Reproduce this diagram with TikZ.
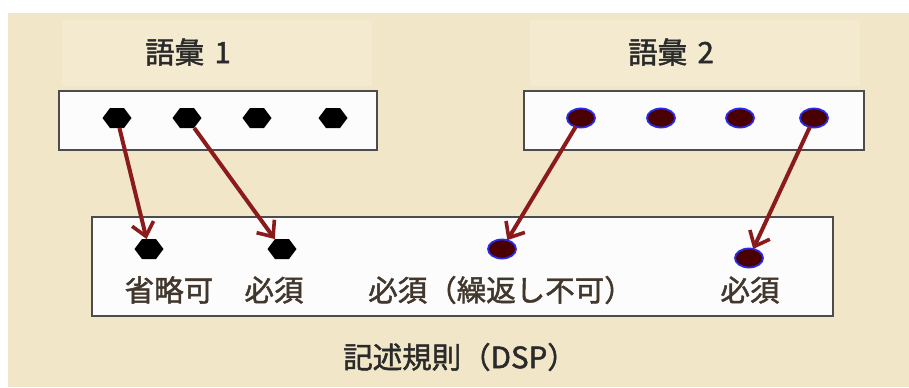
\documentclass[tikz,border=0pt]{standalone}
\usepackage{fontspec}
\setmainfont{Noto Sans CJK JP}[FakeBold=1.6]
\usetikzlibrary{arrows.meta,shapes.geometric}
\definecolor{bg}{HTML}{F1E6C8}
\definecolor{bglight}{HTML}{F3EAD0}
\definecolor{arrowred}{HTML}{8B1A1A}
\definecolor{maroon}{HTML}{4A0000}
\definecolor{rim}{HTML}{2A2AE8}
\definecolor{txt}{HTML}{2A2A2A}
\tikzset{
  panel/.style={draw=black!70, line width=1.3bp, fill=white!98!gray},
  hexdot/.style={minimum width=29bp, minimum height=20bp, inner sep=0pt, outer sep=0pt,
    path picture={\fill[black] (path picture bounding box.west)
      -- ([xshift=-7bp]path picture bounding box.north)
      -- ([xshift=7bp]path picture bounding box.north)
      -- (path picture bounding box.east)
      -- ([xshift=7bp]path picture bounding box.south)
      -- ([xshift=-7bp]path picture bounding box.south) -- cycle;}},
  elldot/.style={ellipse, fill=maroon, draw=rim, line width=1.8bp,
    minimum width=28bp, minimum height=19bp, inner sep=0pt, outer sep=0pt},
  link/.style={draw=arrowred, line width=4bp, -{Straight Barb[length=13bp,width=22bp,line width=3.6bp]}},
  title/.style={text=txt, font=\fontsize{29.5bp}{32bp}\selectfont, inner sep=0pt},
  lbl/.style={text=txt!85!brown, font=\fontsize{29.5bp}{32bp}\selectfont, inner sep=0pt},
}
\begin{document}
\begin{tikzpicture}[x=1bp,y=-1bp]
\useasboundingbox (0,0) rectangle (909,387);
\fill[white] (0,0) rectangle (909,387);
\fill[bg] (8,13) rectangle (909,387);
\fill[bglight] (62,20) rectangle (372,86);
\fill[bglight] (530,20) rectangle (860,86);
% titles
\node[title] (t1) at (188,52) {語彙\hspace{0.35em}1};
\node[title] (t2) at (671,52) {語彙\hspace{0.35em}2};
% panels
\node[panel, minimum width=318bp, minimum height=59bp, inner sep=0pt] (p1) at (218,120.5) {};
\node[panel, minimum width=340bp, minimum height=59bp, inner sep=0pt] (p2) at (694,120.5) {};
\node[panel, minimum width=741bp, minimum height=99bp, inner sep=0pt] (p3) at (462.5,266.5) {};
% vocabulary 1
\node[hexdot] (a1) at (117,118) {};
\node[hexdot] (a2) at (187,118) {};
\node[hexdot] (a3) at (257,118) {};
\node[hexdot] (a4) at (333,118) {};
% vocabulary 2
\node[elldot] (b1) at (581,118) {};
\node[elldot] (b2) at (661,118) {};
\node[elldot] (b3) at (740,118) {};
\node[elldot] (b4) at (814,118) {};
% DSP
\node[hexdot] (c1) at (149,249) {};
\node[hexdot] (c2) at (282,249) {};
\node[elldot] (c3) at (502,249) {};
\node[elldot] (c4) at (749,258) {};
\node[lbl] (l1) at (169,290) {省略可};
\node[lbl] (l2) at (274,290) {必須};
\node[lbl] (l3) at (501,290) {必須（繰返し不可）};
\node[lbl] (l4) at (750,290) {必須};
\node[title] (t3) at (460,357) {記述規則（DSP）};
% links
\draw[link] (a1) -- (c1);
\draw[link] (a2) -- (c2);
\draw[link] (b1) -- (c3);
\draw[link] (b4) -- (c4);
\end{tikzpicture}
\end{document}
